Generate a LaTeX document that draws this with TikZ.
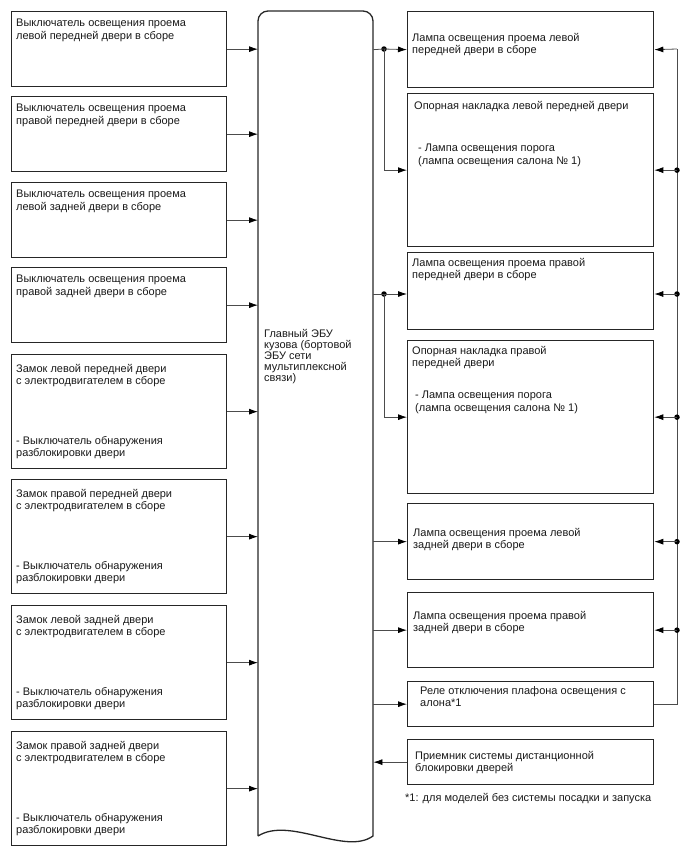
\documentclass[tikz,border=0pt]{standalone}
\usepackage{fontspec}
\setmainfont{Liberation Sans}
\usetikzlibrary{arrows.meta,calc}
\begin{document}
\begin{tikzpicture}[x=1pt,y=-1pt,
  box/.style={draw=black!85, line width=1.3pt, rectangle, inner sep=0pt, anchor=north west},
  txt/.style={anchor=north west, inner sep=0pt, align=left, font=\fontsize{11}{12.3}\selectfont, text=black!90},
  conn/.style={draw=black!70, line width=0.8pt},
  arr/.style={conn, -{Latex[length=9pt,width=6pt,black]}},
  dot/.style={circle, fill=black, inner sep=0pt, minimum size=5.5pt}]
\useasboundingbox (0,0) rectangle (688,852);

% ---------- left boxes ----------
\node[box, minimum width=215pt, minimum height=75pt] (b1) at (11,11) {};
\node[box, minimum width=215pt, minimum height=75pt] (b2) at (11,96) {};
\node[box, minimum width=215pt, minimum height=75pt] (b3) at (11,182) {};
\node[box, minimum width=215pt, minimum height=75pt] (b4) at (11,267) {};
\node[box, minimum width=215pt, minimum height=114pt] (b5) at (11,354) {};
\node[box, minimum width=215pt, minimum height=114pt] (b6) at (11,479) {};
\node[box, minimum width=215pt, minimum height=114pt] (b7) at (11,605) {};
\node[box, minimum width=215pt, minimum height=114pt] (b8) at (11,731) {};

\node[txt] (tb1) at (16,19) {Выключатель освещения проема\\левой передней двери в сборе};
\node[txt] (tb2) at (16,104) {Выключатель освещения проема\\правой передней двери в сборе};
\node[txt] (tb3) at (16,190) {Выключатель освещения проема\\левой задней двери в сборе};
\node[txt] (tb4) at (16,275) {Выключатель освещения проема\\правой задней двери в сборе};

\node[txt] (tb5a) at (16,364) {Замок левой передней двери\\с электродвигателем в сборе};
\node[txt] (tb5b) at (16,436) {- Выключатель обнаружения\\разблокировки двери};
\node[txt] (tb6a) at (16,489) {Замок правой передней двери\\с электродвигателем в сборе};
\node[txt] (tb6b) at (16,561) {- Выключатель обнаружения\\разблокировки двери};
\node[txt] (tb7a) at (16,615) {Замок левой задней двери\\с электродвигателем в сборе};
\node[txt] (tb7b) at (16,687) {- Выключатель обнаружения\\разблокировки двери};
\node[txt] (tb8a) at (16,741) {Замок правой задней двери\\с электродвигателем в сборе};
\node[txt] (tb8b) at (16,813) {- Выключатель обнаружения\\разблокировки двери};

% ---------- main ECU ----------
\node[inner sep=0pt, minimum width=115pt, minimum height=834pt, anchor=north west] (ecu) at (258,11) {};
\draw[draw=black!85, line width=1.3pt]
  (258,836) -- (258,21) arc[start angle=180, end angle=90, radius=10pt]
  -- (363,11) arc[start angle=90, end angle=0, radius=10pt]
  -- (373,836) .. controls (345,856) and (290,816) .. (258,836);
\node[txt, font=\fontsize{11}{11}\selectfont] (tecu) at (264,329) {Главный ЭБУ\\кузова (бортовой\\ЭБУ сети\\мультиплексной\\связи)};

% ---------- right boxes ----------
\node[box, minimum width=246pt, minimum height=76pt] (r1) at (407,11) {};
\node[box, minimum width=246pt, minimum height=153pt] (r2) at (407,93) {};
\node[box, minimum width=246pt, minimum height=77pt] (r3) at (407,252) {};
\node[box, minimum width=246pt, minimum height=153pt] (r4) at (407,340) {};
\node[box, minimum width=246pt, minimum height=76pt] (r5) at (407,503) {};
\node[box, minimum width=246pt, minimum height=75pt] (r6) at (407,592) {};
\node[box, minimum width=246pt, minimum height=45pt] (r7) at (407,681) {};
\node[box, minimum width=246pt, minimum height=45pt] (r8) at (407,739) {};

\node[txt] (tr1) at (412,33) {Лампа освещения проема левой\\передней двери в сборе};
\node[txt] (tr2a) at (414,101) {Опорная накладка левой передней двери};
\node[txt] (tr2b) at (418,144) {- Лампа освещения порога\\(лампа освещения салона № 1)};
\node[txt] (tr3) at (412,258) {Лампа освещения проема правой\\передней двери в сборе};
\node[txt] (tr4a) at (412,346) {Опорная накладка правой\\передней двери};
\node[txt] (tr4b) at (415,391) {- Лампа освещения порога\\(лампа освещения салона № 1)};
\node[txt] (tr5) at (413,528) {Лампа освещения проема левой\\задней двери в сборе};
\node[txt] (tr6) at (413,611) {Лампа освещения проема правой\\задней двери в сборе};
\node[txt] (tr7) at (420,686) {Реле отключения плафона освещения с\\алона*1};
\node[txt] (tr8) at (415,751) {Приемник системы дистанционной\\блокировки дверей};
\node[txt] (fn) at (405,793) {*1: для моделей без системы посадки и запуска};

% ---------- left connectors ----------
\foreach \b in {b1,b2,b3,b4,b5,b6,b7,b8}
  \draw[arr] (\b.east) -- (\b.east -| ecu.west);

% ---------- ECU to right boxes ----------
\node[dot] (j1) at (384,49) {};
\node[dot] (j2) at (384,294) {};
\draw[conn] (ecu.east |- r1.west) -- (j1.center);
\draw[arr] (j1.center) -- (r1.west);
\draw[arr] (j1.center) |- (r2.west);
\draw[conn] (ecu.east |- j2) -- (j2.center);
\draw[arr] (j2.center) -- (r3.west |- j2);
\draw[arr] (j2.center) |- (r4.west);
\draw[arr] (ecu.east |- r5.west) -- (r5.west);
\draw[arr] (ecu.east |- r6.west) -- (r6.west);
\draw[arr] (ecu.east |- r7.west) -- (r7.west);
\draw[arr] (r8.west) -- (ecu.east |- r8.west);

% ---------- right bus ----------
\coordinate (bt) at (677,49);
\coordinate (bb) at (bt |- r7.east);
\draw[arr] (bt) -- (r1.east);
\draw[conn] (r7.east) -- (bb) -- (bt);
\node[dot] (d2) at (bt |- r2.east) {};
\node[dot] (d3) at (bt |- j2) {};
\node[dot] (d4) at (bt |- r4.east) {};
\node[dot] (d5) at (bt |- r5.east) {};
\node[dot] (d6) at (bt |- r6.east) {};
\draw[arr] (d2.center) -- (r2.east);
\draw[arr] (d3.center) -- (r3.east |- d3);
\draw[arr] (d4.center) -- (r4.east);
\draw[arr] (d5.center) -- (r5.east);
\draw[arr] (d6.center) -- (r6.east);
\end{tikzpicture}
\end{document}
